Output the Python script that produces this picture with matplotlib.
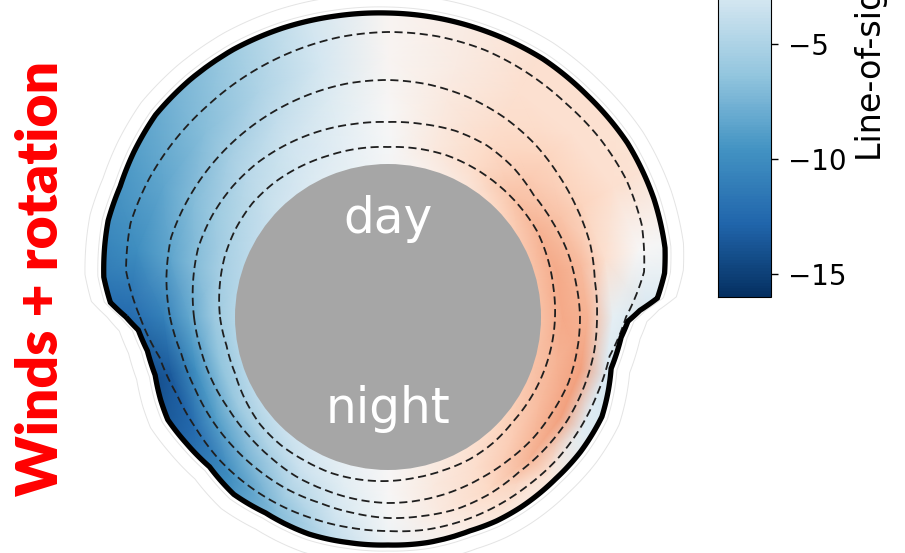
import numpy as np
import matplotlib.pyplot as plt
from matplotlib.path import Path
from matplotlib.patches import PathPatch

# planet disk and colour range (km/s)
planet_r = 153
vmin, vmax = -16, 16

# outer edge of the atmosphere: angle (deg) and radius
edge_theta = [-180, -177, -172, -166, -160, -155, -148, -140, -131, -122,
              -115, -110, -100, -90, -80, -69, -62, -55, -44, -35,
              -25, -18, -13, -5, -1, 1.5, 4, 9, 14, 24,
              36, 48, 59, 71, 80, 90, 100, 110, 120, 130,
              139, 147, 154, 161, 166, 172, 177]
edge_r = [262, 250, 243, 240, 242, 243, 238, 233, 235, 231,
          231, 231, 229, 228, 229, 229, 231, 232, 233, 235,
          236, 232, 229, 234, 240, 252, 270, 280, 285.5, 291,
          296, 298, 301, 302, 303, 304, 305.5, 307.5, 309, 309,
          308, 303, 298, 296, 292, 287, 278]

# dashed pressure contours, every 10 deg from -180
cont_theta = np.arange(-180, 180, 10)
cont_1 = [248, 232, 225, 222, 221, 219, 217, 215, 214, 214,
          216, 217, 218, 219, 221, 222, 223, 225, 238,
          260, 270, 275, 277, 278, 281, 284, 285, 285,
          284, 282, 280, 278, 277, 276, 274, 266]
cont_2 = [218, 210, 206, 204, 202, 200.5, 199.5, 198, 199, 201,
          202, 204, 204, 203, 205, 207, 208, 209, 209,
          210, 215, 218, 222, 227, 231, 234, 236, 237,
          237, 236, 235, 234, 233, 232, 231, 225]
cont_3 = [194, 190, 187, 184, 183, 183, 184, 184, 185, 186,
          186, 186, 186, 187, 189, 190, 192, 192, 192,
          191, 191, 190, 190, 195, 198, 198, 196, 195,
          196, 198, 200, 202, 203, 203, 202, 198]
cont_4 = [168, 164, 163, 165, 167, 167, 166, 166, 165, 164,
          163, 163, 164, 164, 163, 164, 165, 166, 167,
          168, 170, 172, 172, 172, 172, 172, 171, 170,
          171, 172, 174, 176, 177, 176, 174, 171]

# line-of-sight velocity on a coarse grid: one list per radius level
field_theta = np.arange(-180, 180, 15)
field_r = [150, 175, 200, 225, 260, 320]
v_150 = [-4.5, -4.5, -4.0, -3.5, -2.5, -1.2, 0.0, 1.2, 2.2, 3.2, 4.0, 4.5,
         4.5, 4.5, 4.0, 3.0, 1.8, 0.8, -0.3, -1.3, -2.2, -3.2, -4.0, -4.5]
v_175 = [-6.0, -6.5, -6.0, -5.0, -3.5, -1.8, 0.0, 1.5, 2.8, 4.0, 5.0, 5.5,
         6.0, 6.0, 5.5, 4.5, 3.0, 1.5, -0.2, -1.6, -2.8, -3.8, -4.8, -5.5]
v_200 = [-8.5, -10.0, -9.0, -7.5, -5.0, -2.8, -0.3, 1.5, 3.2, 5.5, 6.5, 6.5,
         5.5, 5.0, 4.5, 4.0, 3.0, 1.5, 0.0, -1.8, -3.3, -4.5, -5.8, -7.0]
v_225 = [-11.0, -13.5, -12.5, -10.0, -7.0, -4.0, -0.8, 0.8, 2.0, 2.0, -2.0, -2.5,
         -1.5, 2.5, 3.5, 3.5, 2.8, 1.5, 0.2, -2.2, -4.0, -5.5, -7.0, -8.5]
v_260 = [-12.5, -15.0, -13.5, -11.0, -7.5, -4.5, -1.0, 0.5, 1.0, -0.5, -3.0, -3.5,
         -3.0, 0.0, 2.5, 2.5, 2.5, 1.3, 0.3, -2.8, -5.0, -6.8, -8.5, -10.0]
v_320 = [-12.5, -15.0, -13.5, -11.0, -7.5, -4.5, -1.0, 0.5, 1.0, -0.5, -3.0, -3.5,
         -3.0, -0.5, 2.0, 2.5, 2.5, 1.3, 0.3, -3.2, -5.8, -7.8, -9.5, -11.0]

W, H = 905, 553
cx, cy, rmax = 388, 317, 330


def ring(theta_deg, r):
    # closed loop in (theta, r); interpolated by the polar transform so it bends
    th = np.deg2rad(np.append(theta_deg, 180))
    rr = np.append(r, r[0])
    return Path(np.column_stack([th, rr]), _interpolation_steps=16)


fig = plt.figure(figsize=(W / 100, H / 100), dpi=100)
ax = fig.add_axes([(cx - rmax) / W, (H - cy - rmax) / H, 2 * rmax / W, 2 * rmax / H],
                  projection="polar")

# velocity map, closed in angle
vel = np.array([v_150, v_175, v_200, v_225, v_260, v_320])
vel = np.column_stack([vel, vel[:, 0]])
th_nodes = np.deg2rad(np.append(field_theta, 180))
T, R = np.meshgrid(th_nodes, field_r)
mesh = ax.pcolormesh(T, R, vel, cmap="RdBu_r", vmin=vmin, vmax=vmax,
                     shading="gouraud", zorder=1)

# faint rings outside and the thick outline
edge_r_arr = np.array(edge_r, dtype=float)
for off in (6, 19):
    ax.add_patch(PathPatch(ring(edge_theta, edge_r_arr + off), fill=False,
                           edgecolor="#e4e4e4", lw=0.7, zorder=1))
outline = PathPatch(ring(edge_theta, edge_r_arr), fill=False, edgecolor="black",
                    lw=3.8, zorder=3)
ax.add_patch(outline)
mesh.set_clip_path(outline)

# contours
for c in [cont_1, cont_2, cont_3, cont_4]:
    ax.add_patch(PathPatch(ring(cont_theta, np.array(c, dtype=float)), fill=False,
                           edgecolor="#1f1f1f", lw=1.3, linestyle=(0, (4.5, 2.5)), zorder=2))

# planet
ax.bar(0, planet_r, width=2 * np.pi, bottom=0, color="#a6a6a6", linewidth=0, zorder=4)
ax.text(np.pi / 2, 84, "day", color="white", fontsize=35, ha="center", va="baseline", zorder=5)
ax.text(-np.pi / 2, 106, "night", color="white", fontsize=35, ha="center", va="baseline", zorder=5)

ax.set_ylim(0, rmax)
ax.set_axis_off()

# colorbar, mostly above the visible area
cax = fig.add_axes([718 / W, (H - 297) / H, 53 / W, 736 / H])
cb = fig.colorbar(mesh, cax=cax, ticks=[-15, -10, -5, 0, 5, 10, 15])
cb.set_label("Line-of-sight velocity (km/s)", fontsize=24, labelpad=6)
cb.ax.tick_params(labelsize=20, length=5, width=1.0, pad=7)
cb.outline.set_linewidth(0.8)

fig.text(41 / W, 1 - 278 / H, "Winds + rotation", rotation=90, color="red",
         fontsize=41, fontweight="heavy", family="Lato", ha="center", va="center")

fig.savefig("out.png", dpi=100)
